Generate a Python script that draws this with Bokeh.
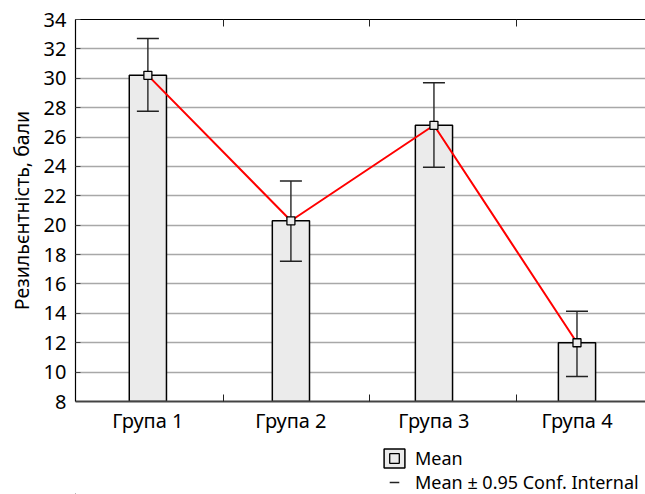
from bokeh.plotting import figure
from bokeh.layouts import column
from bokeh.models import Range1d, LinearAxis, FixedTicker, Legend, LegendItem, ColumnDataSource
from bokeh.embed import file_html
from bokeh.resources import INLINE

# ---- data ----
groups = ["Група 1", "Група 2", "Група 3", "Група 4"]
positions = [1, 2, 3, 4]
means = [30.2, 20.3, 26.8, 12.0]
ci_lower = [27.75, 17.55, 23.95, 9.7]
ci_upper = [32.7, 23.0, 29.7, 14.15]
y_ticks = [8, 10, 12, 14, 16, 18, 20, 22, 24, 26, 28, 30, 32, 34]
boundary_ticks = [1.53, 2.55, 3.58]
y_label = "Резильєнтність, бали"
legend_labels = ["Mean", "Mean ± 0.95 Conf. Internal"]

FONT = "Noto Sans"
BAR_FILL = "#ebebeb"

src = ColumnDataSource(dict(x=positions, mean=means, lo=ci_lower, hi=ci_upper,
                            base=[y_ticks[0]] * len(positions)))

p = figure(width=645, height=440, output_backend="svg", toolbar_location=None,
           x_range=Range1d(0.494, 4.479), y_range=Range1d(y_ticks[0], y_ticks[-1]),
           min_border_left=75, min_border_right=0, min_border_top=19, min_border_bottom=39)
p.outline_line_color = None

# grid
p.xgrid.visible = False
p.ygrid.grid_line_color = "#a8a8a8"
p.ygrid.grid_line_width = 1.3

# bottom axis
xa = p.xaxis[0]
xa.ticker = FixedTicker(ticks=positions, minor_ticks=boundary_ticks)
xa.major_label_overrides = dict(zip(positions, groups))
xa.major_tick_in = 0
xa.major_tick_out = 0
xa.minor_tick_in = 7
xa.minor_tick_out = 0
xa.minor_tick_line_color = "#222222"
xa.axis_line_color = "#444444"
xa.axis_line_width = 2
xa.major_label_text_font = FONT
xa.major_label_text_font_size = "20px"
xa.major_label_text_color = "#000000"
xa.major_label_standoff = 5

# left axis
ya = p.yaxis[0]
ya.ticker = FixedTicker(ticks=y_ticks)
ya.major_tick_in = 5
ya.major_tick_out = 0
ya.minor_tick_line_color = None
ya.major_tick_line_color = "#444444"
ya.axis_line_color = "#000000"
ya.axis_line_width = 1.2
ya.major_label_text_font = FONT
ya.major_label_text_font_size = "20px"
ya.major_label_text_color = "#000000"
ya.major_label_standoff = 9
ya.axis_label = y_label
ya.axis_label_text_font = FONT
ya.axis_label_text_font_size = "19.5px"
ya.axis_label_text_font_style = "normal"
ya.axis_label_text_color = "#000000"
ya.axis_label_standoff = 6

# top border axis with boundary ticks
top = LinearAxis(ticker=FixedTicker(ticks=[], minor_ticks=boundary_ticks))
top.axis_line_color = "#000000"
top.axis_line_width = 1.2
top.minor_tick_in = 7
top.minor_tick_out = 0
top.minor_tick_line_color = "#222222"
top.major_tick_in = 0
top.major_tick_out = 0
top.major_label_standoff = 0
top.major_label_text_font_size = "0px"
p.add_layout(top, "above")

bar_style = dict(fill_color=BAR_FILL, line_color="#000000", line_width=1.5)
mark_style = dict(marker="square", size=8, fill_color=BAR_FILL, line_color="#000000", line_width=1.3)
cap_style = dict(marker="dash", size=22, line_color="#222222", line_width=1.5)

# bars
p.vbar(x="x", top="mean", bottom="base", width=0.26, source=src, **bar_style)
# mean line
p.line(x="x", y="mean", source=src, line_color="#ff0000", line_width=2)
# error bars
p.segment(x0="x", y0="lo", x1="x", y1="hi", source=src, line_color="#333333", line_width=1.5)
p.scatter(x="x", y="hi", source=src, **cap_style)
p.scatter(x="x", y="lo", source=src, **cap_style)
# mean markers
p.scatter(x="x", y="mean", source=src, **mark_style)

# ---- legend strip under the chart (its glyphs use the same data, kept out of view) ----
q = figure(width=645, height=54, output_backend="svg", toolbar_location=None,
           x_axis_type=None, y_axis_type=None,
           x_range=Range1d(100, 101), y_range=Range1d(100, 101),
           min_border_left=0, min_border_right=0, min_border_top=0, min_border_bottom=0)
q.grid.visible = False
q.outline_line_color = None
lg_bar = q.vbar(x="x", top="mean", bottom="base", width=0.26, source=src, **bar_style)
lg_mark = q.scatter(x="x", y="mean", source=src, **mark_style)
lg_cap = q.scatter(x="x", y="hi", source=src, **cap_style)

legend = Legend(items=[LegendItem(label=legend_labels[0], renderers=[lg_bar, lg_mark]),
                       LegendItem(label=legend_labels[1], renderers=[lg_cap])],
                location=(306, 0), orientation="vertical")
legend.padding = 0
legend.margin = 0
legend.spacing = 0
legend.border_line_color = None
legend.background_fill_alpha = 0
legend.glyph_width = 26
legend.glyph_height = 24
legend.label_standoff = 8
legend.label_text_font = FONT
legend.label_text_font_size = "18px"
legend.label_text_color = "#000000"
q.add_layout(legend, "center")

open("out.html", "w").write(file_html(column(p, q, spacing=0), INLINE))
